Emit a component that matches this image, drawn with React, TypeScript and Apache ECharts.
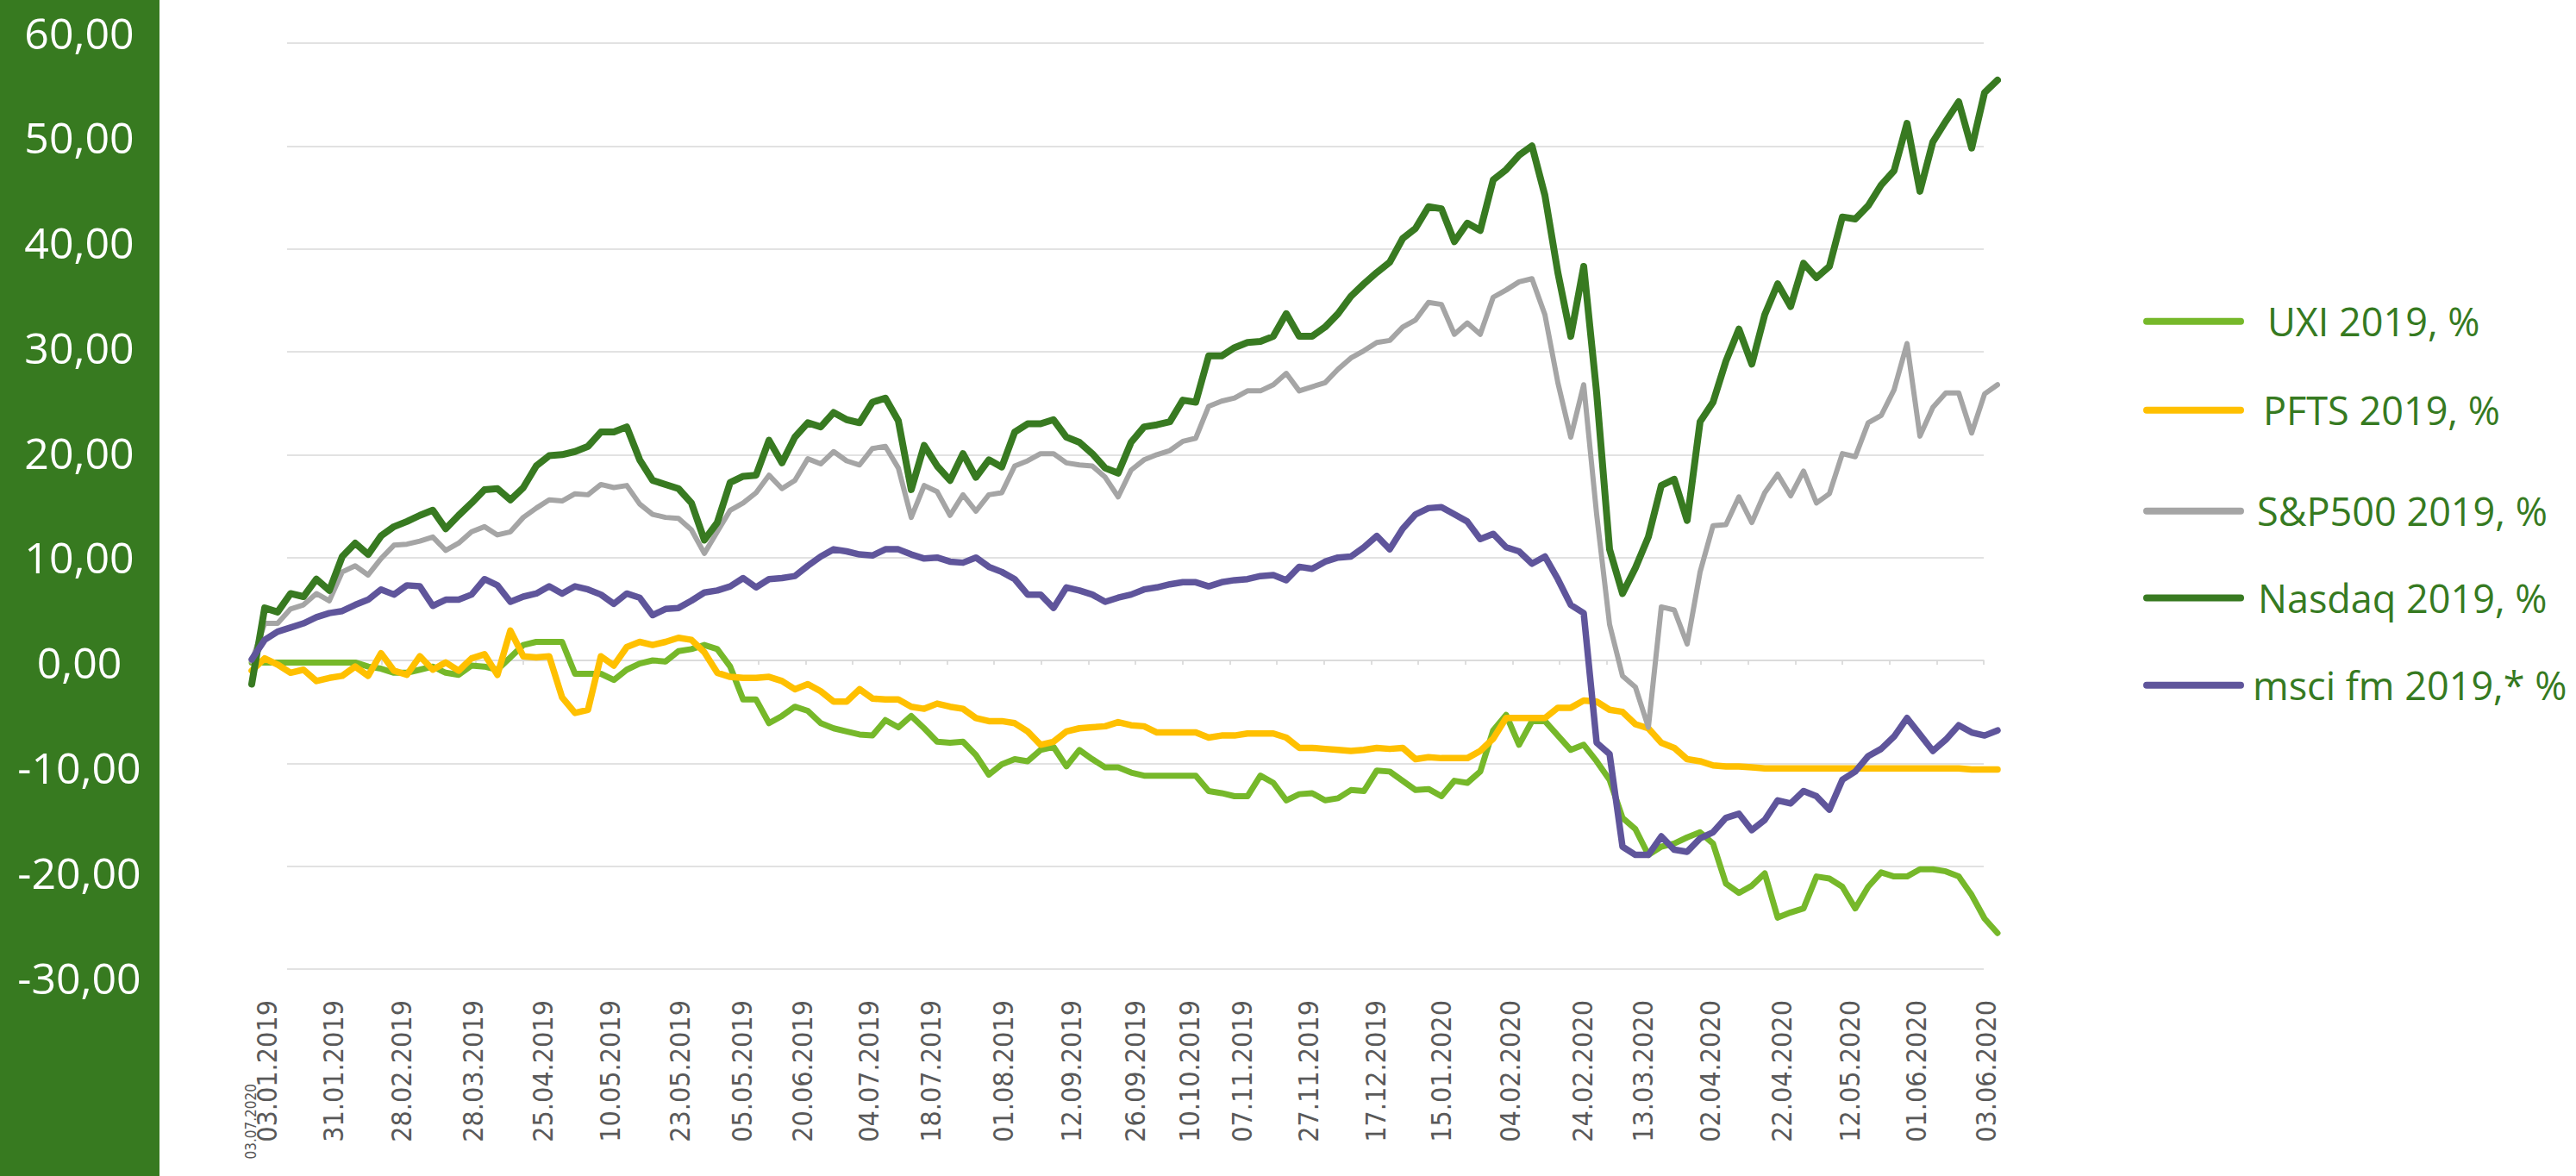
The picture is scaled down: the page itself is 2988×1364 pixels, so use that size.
import React, { useEffect, useRef } from 'react';
import * as echarts from 'echarts';

// ---------- data ----------
const X_LABELS = [
  '03.01.2019', '31.01.2019', '28.02.2019', '28.03.2019', '25.04.2019', '10.05.2019', '23.05.2019',
  '05.05.2019', '20.06.2019', '04.07.2019', '18.07.2019', '01.08.2019', '12.09.2019', '26.09.2019',
  '10.10.2019', '07.11.2019', '27.11.2019', '17.12.2019', '15.01.2020', '04.02.2020', '24.02.2020',
  '13.03.2020', '02.04.2020', '22.04.2020', '12.05.2020', '01.06.2020', '03.06.2020',
];
// position of each date label, in data-point index units
const X_LABEL_POS = [
  1.2, 6.3, 11.6, 17.1, 22.5, 27.7, 33.1, 37.9, 42.6, 47.7, 52.5, 58.1, 63.4, 68.3,
  72.5, 76.6, 81.7, 86.9, 92.0, 97.3, 102.9, 107.6, 112.8, 118.3, 123.6, 128.7, 134.1,
];
const START_LABEL = '03.07.2020';

const UXI = [
  -0.2, -0.2, -0.2, -0.2, -0.2, -0.2, -0.2, -0.2, -0.2, -0.6,
  -0.8, -1.2, -1.2, -0.9, -0.6, -1.2, -1.4, -0.5, -0.6, -0.9,
  0.3, 1.5, 1.8, 1.8, 1.8, -1.3, -1.3, -1.3, -1.9, -0.9,
  -0.3, 0.0, -0.1, 0.9, 1.1, 1.5, 1.1, -0.6, -3.8, -3.8,
  -6.1, -5.4, -4.5, -4.9, -6.1, -6.6, -6.9, -7.2, -7.3, -5.8,
  -6.5, -5.4, -6.6, -7.9, -8.0, -7.9, -9.2, -11.1, -10.1, -9.6,
  -9.8, -8.7, -8.4, -10.3, -8.7, -9.6, -10.4, -10.4, -10.9, -11.2,
  -11.2, -11.2, -11.2, -11.2, -12.7, -12.9, -13.2, -13.2, -11.2, -11.9,
  -13.6, -13.0, -12.9, -13.6, -13.4, -12.6, -12.7, -10.7, -10.8, -11.7,
  -12.6, -12.5, -13.2, -11.7, -11.9, -10.8, -6.8, -5.3, -8.2, -5.9,
  -5.9, -7.3, -8.7, -8.2, -9.8, -11.6, -15.3, -16.4, -18.9, -18.1,
  -17.8, -17.2, -16.7, -17.8, -21.7, -22.6, -21.9, -20.7, -25.0, -24.5,
  -24.1, -21.0, -21.2, -22.0, -24.1, -22.0, -20.6, -21.0, -21.0, -20.3,
  -20.3, -20.5, -21.0, -22.8, -25.1, -26.5,
];

const PFTS = [
  -1.0, 0.2, -0.4, -1.2, -0.9, -2.0, -1.7, -1.5, -0.6, -1.5,
  0.7, -1.0, -1.4, 0.4, -0.9, -0.2, -1.0, 0.2, 0.6, -1.4,
  2.9, 0.4, 0.3, 0.4, -3.6, -5.1, -4.8, 0.4, -0.5, 1.3,
  1.8, 1.5, 1.8, 2.2, 2.0, 0.8, -1.2, -1.6, -1.7, -1.7,
  -1.6, -2.0, -2.8, -2.3, -3.0, -4.0, -4.0, -2.8, -3.7, -3.8,
  -3.8, -4.5, -4.7, -4.2, -4.5, -4.7, -5.6, -5.9, -5.9, -6.1,
  -6.9, -8.2, -7.9, -6.9, -6.6, -6.5, -6.4, -6.0, -6.3, -6.4,
  -7.0, -7.0, -7.0, -7.0, -7.5, -7.3, -7.3, -7.1, -7.1, -7.1,
  -7.5, -8.5, -8.5, -8.6, -8.7, -8.8, -8.7, -8.5, -8.6, -8.5,
  -9.6, -9.4, -9.5, -9.5, -9.5, -8.8, -7.6, -5.6, -5.6, -5.6,
  -5.6, -4.6, -4.6, -3.9, -4.0, -4.8, -5.0, -6.2, -6.6, -8.0,
  -8.5, -9.6, -9.8, -10.2, -10.3, -10.3, -10.4, -10.5, -10.5, -10.5,
  -10.5, -10.5, -10.5, -10.5, -10.5, -10.5, -10.5, -10.5, -10.5, -10.5,
  -10.5, -10.5, -10.5, -10.6, -10.6, -10.6,
];

const SP500 = [
  -0.1, 3.6, 3.6, 5.0, 5.4, 6.5, 5.8, 8.6, 9.2, 8.3,
  9.9, 11.2, 11.3, 11.6, 12.0, 10.7, 11.4, 12.5, 13.0, 12.2,
  12.5, 13.9, 14.8, 15.6, 15.5, 16.2, 16.1, 17.1, 16.8, 17.0,
  15.2, 14.2, 13.9, 13.8, 12.7, 10.4, 12.5, 14.6, 15.3, 16.3,
  18.0, 16.7, 17.5, 19.6, 19.1, 20.3, 19.4, 19.0, 20.6, 20.8,
  18.7, 13.9, 17.0, 16.4, 14.1, 16.1, 14.5, 16.1, 16.3, 18.9,
  19.4, 20.1, 20.1, 19.2, 19.0, 18.9, 17.8, 15.9, 18.5, 19.5,
  20.0, 20.4, 21.3, 21.6, 24.7, 25.2, 25.5, 26.2, 26.2, 26.8,
  27.9, 26.2, 26.6, 27.0, 28.3, 29.4, 30.1, 30.9, 31.1, 32.4,
  33.1, 34.8, 34.6, 31.7, 32.8, 31.7, 35.3, 36.0, 36.8, 37.1,
  33.6, 27.0, 21.7, 26.8, 14.2, 3.5, -1.5, -2.6, -6.5, 5.2,
  4.9, 1.6, 8.6, 13.1, 13.2, 15.9, 13.4, 16.3, 18.1, 16.0,
  18.4, 15.3, 16.2, 20.1, 19.8, 23.1, 23.8, 26.3, 30.8, 21.8,
  24.6, 26.0, 26.0, 22.1, 25.9, 26.8,
];

const NASDAQ = [
  -2.3, 5.1, 4.7, 6.5, 6.2, 7.9, 6.8, 10.1, 11.4, 10.3,
  12.1, 13.0, 13.5, 14.1, 14.6, 12.8, 14.1, 15.3, 16.6, 16.7,
  15.6, 16.8, 18.9, 19.9, 20.0, 20.3, 20.8, 22.2, 22.2, 22.7,
  19.5, 17.5, 17.1, 16.7, 15.3, 11.7, 13.4, 17.3, 17.9, 18.0,
  21.4, 19.2, 21.7, 23.1, 22.7, 24.1, 23.4, 23.1, 25.1, 25.5,
  23.3, 16.6, 20.9, 18.9, 17.5, 20.1, 17.8, 19.5, 18.8, 22.2,
  23.0, 23.0, 23.4, 21.7, 21.2, 20.1, 18.7, 18.2, 21.2, 22.7,
  22.9, 23.2, 25.3, 25.1, 29.6, 29.6, 30.4, 30.9, 31.0, 31.5,
  33.7, 31.5, 31.5, 32.4, 33.7, 35.4, 36.6, 37.7, 38.7, 41.0,
  42.0, 44.1, 43.9, 40.7, 42.5, 41.8, 46.7, 47.7, 49.1, 50.0,
  45.2, 37.7, 31.5, 38.3, 26.0, 10.8, 6.5, 9.0, 12.0, 17.0,
  17.6, 13.6, 23.2, 25.1, 29.1, 32.2, 28.8, 33.6, 36.6, 34.4,
  38.6, 37.2, 38.3, 43.1, 42.9, 44.2, 46.2, 47.6, 52.2, 45.6,
  50.4, 52.4, 54.3, 49.8, 55.2, 56.4,
];

const MSCI = [
  0.1, 2.0, 2.8, 3.2, 3.6, 4.2, 4.6, 4.8, 5.4, 5.9,
  6.9, 6.4, 7.3, 7.2, 5.3, 5.9, 5.9, 6.4, 7.9, 7.3,
  5.7, 6.2, 6.5, 7.2, 6.5, 7.2, 6.9, 6.4, 5.5, 6.5,
  6.1, 4.4, 5.0, 5.1, 5.8, 6.6, 6.8, 7.2, 8.0, 7.1,
  7.9, 8.0, 8.2, 9.2, 10.1, 10.8, 10.6, 10.3, 10.2, 10.8,
  10.8, 10.3, 9.9, 10.0, 9.6, 9.5, 10.0, 9.1, 8.6, 7.9,
  6.4, 6.4, 5.1, 7.1, 6.8, 6.4, 5.7, 6.1, 6.4, 6.9,
  7.1, 7.4, 7.6, 7.6, 7.2, 7.6, 7.8, 7.9, 8.2, 8.3,
  7.8, 9.1, 8.9, 9.6, 10.0, 10.1, 11.0, 12.1, 10.8, 12.8,
  14.2, 14.8, 14.9, 14.2, 13.5, 11.8, 12.3, 11.0, 10.6, 9.4,
  10.1, 7.9, 5.4, 4.6, -8.0, -9.1, -18.1, -18.9, -18.9, -17.1,
  -18.4, -18.6, -17.3, -16.7, -15.3, -14.9, -16.5, -15.5, -13.6, -13.9,
  -12.7, -13.2, -14.5, -11.6, -10.8, -9.3, -8.6, -7.4, -5.6, -7.2,
  -8.8, -7.7, -6.3, -7.0, -7.3, -6.8,
];

const SERIES_NAMES = ['UXI 2019, %', 'PFTS 2019, %', 'S&P500 2019, %', 'Nasdaq 2019, %', 'msci fm 2019,* %'];
const SERIES_VALUES = [UXI, PFTS, SP500, NASDAQ, MSCI];

const Y_MIN = -30;
const Y_MAX = 60;
const Y_STEP = 10;
const TICK_COUNT = 36;

// ---------- styles ----------
const COLORS = ['#76B82A', '#FFC000', '#A5A5A5', '#387A21', '#5F559B'];
const WIDTHS = [7, 7.5, 6, 8, 7.5];
const GREEN = '#377A20';
const GRID_COLOR = '#D9D9D9';
const LEGEND_CENTERS = [372.7, 475.7, 592.8, 693.4, 794.8];
const LEGEND_TEXT_PAD = [22, 17, 10, 11, 5];
const X_FONT = "'DejaVu Sans Condensed', 'DejaVu Sans', sans-serif";

function nearestLabel(v: number): string {
  let best = 0;
  for (let k = 1; k < X_LABEL_POS.length; k++) {
    if (Math.abs(X_LABEL_POS[k] - v) < Math.abs(X_LABEL_POS[best] - v)) best = k;
  }
  return X_LABELS[best];
}

export default function App() {
  const ref = useRef<HTMLDivElement>(null);

  useEffect(() => {
    if (!ref.current) return;
    const chart = echarts.init(ref.current, undefined, { renderer: 'svg' });
    const n = NASDAQ.length;

    const option: any = {
      animation: false,
      backgroundColor: '#ffffff',
      grid: [
        { left: 292, top: 50, width: 2025, height: 1074 },
        { left: 333, top: 50, width: 1968, height: 1074 },
        { left: 92, top: 37.5, width: 10, height: 1096 },
      ],
      xAxis: [
        {
          gridIndex: 0,
          type: 'value',
          min: 0,
          max: n - 1,
          axisLine: { show: false, onZero: false },
          axisTick: { show: false },
          splitLine: { show: false },
          axisLabel: {
            customValues: X_LABEL_POS,
            rotate: 90,
            margin: 36,
            color: '#595959',
            fontSize: 32,
            fontFamily: X_FONT,
            hideOverlap: false,
            formatter: (v: number) => nearestLabel(v),
          },
        },
        {
          gridIndex: 1,
          type: 'value',
          min: 0,
          max: TICK_COUNT,
          interval: 1,
          axisLine: { show: true, onZero: true, lineStyle: { color: GRID_COLOR, width: 1.7 } },
          axisTick: { show: true, length: 5, lineStyle: { color: GRID_COLOR, width: 1.7 } },
          axisLabel: { show: false },
          splitLine: { show: false },
        },
        { gridIndex: 2, type: 'value', show: false, min: 0, max: 1 },
      ],
      yAxis: [
        { gridIndex: 0, type: 'value', min: Y_MIN, max: Y_MAX, show: false },
        {
          gridIndex: 1,
          type: 'value',
          min: Y_MIN,
          max: Y_MAX,
          interval: Y_STEP,
          axisLine: { show: false },
          axisTick: { show: false },
          axisLabel: { show: false },
          splitLine: { show: true, lineStyle: { color: GRID_COLOR, width: 1.7 } },
        },
        {
          gridIndex: 2,
          type: 'value',
          min: Y_MIN,
          max: Y_MAX,
          interval: Y_STEP,
          axisLine: { show: false },
          axisTick: { show: false },
          splitLine: { show: false },
          axisLabel: {
            color: '#ffffff',
            fontSize: 50,
            fontFamily: 'Open Sans',
            align: 'center',
            margin: 0,
            formatter: (v: number) => v.toFixed(2).replace('.', ','),
          },
        },
      ],
      legend: SERIES_NAMES.map((name, k) => ({
        data: [name],
        left: 2486,
        top: LEGEND_CENTERS[k] - 30,
        orient: 'vertical',
        padding: 0,
        selectedMode: false,
        icon: 'path://M4,0 L113,0 A4,4 0 0 1 113,8 L4,8 A4,4 0 0 1 4,0 Z',
        itemWidth: 117,
        itemHeight: 8,
        textStyle: {
          color: '#367A21',
          fontSize: 45,
          fontFamily: 'Open Sans',
          lineHeight: 60,
          padding: [0, 0, 0, LEGEND_TEXT_PAD[k]],
        },
      })),
      graphic: {
        elements: [
          {
            type: 'rect',
            z: -10,
            silent: true,
            shape: { x: 0, y: 0, width: 185, height: 1364 },
            style: { fill: GREEN },
          },
          {
            type: 'text',
            x: 291,
            y: 1257,
            rotation: Math.PI / 2,
            silent: true,
            style: {
              text: START_LABEL,
              fill: '#595959',
              font: `17px ${X_FONT}`,
              align: 'right',
              verticalAlign: 'middle',
              textAlign: 'right',
              textVerticalAlign: 'middle',
            },
          },
        ],
      },
      series: SERIES_NAMES.map((name, k) => ({
        name,
        type: 'line',
        xAxisIndex: 0,
        yAxisIndex: 0,
        data: SERIES_VALUES[k].map((v, i) => [i, v]),
        symbol: 'none',
        showSymbol: false,
        silent: true,
        itemStyle: { color: COLORS[k] },
        lineStyle: { color: COLORS[k], width: WIDTHS[k], cap: 'round', join: 'round' },
      })),
    };

    chart.setOption(option);
    return () => chart.dispose();
  }, []);

  return (
    <div
      ref={ref}
      style={{ position: 'absolute', left: 0, top: 0, width: 2988, height: 1364, background: '#fff' }}
    />
  );
}
